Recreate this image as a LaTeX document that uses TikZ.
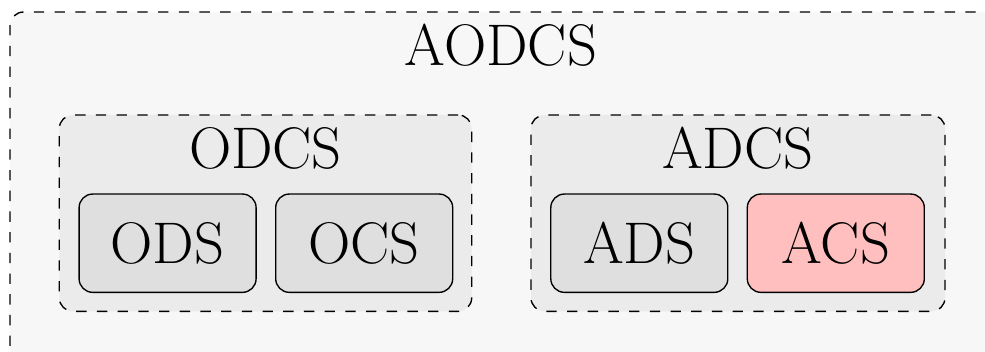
\documentclass[tikz,border=0pt]{standalone}
\definecolor{outerfill}{gray}{0.97}
\definecolor{groupfill}{gray}{0.922}
\definecolor{boxfill}{gray}{0.875}
\definecolor{hotfill}{RGB}{255,191,191}
\tikzset{
  big/.style={font=\fontsize{58.7}{70}\selectfont, inner sep=0pt},
  dashbox/.style={draw=black, line width=1.36pt, dash pattern=on 10.35pt off 10.35pt, rounded corners=13.6pt},
  groupbox/.style={dashbox, fill=groupfill, inner sep=0pt},
  subbox/.style={draw=black, line width=1.36pt, rounded corners=13.6pt, fill=boxfill, inner sep=0pt,
    minimum width=177pt, minimum height=98.3pt, big, text height=41.6pt, text depth=0pt},
  title/.style={big, anchor=base}
}
\begin{document}
\begin{tikzpicture}[x=1pt,y=-1pt]
\useasboundingbox (0,0) rectangle (985,352);
\clip (0,0) rectangle (985,352);
\fill[white] (0,0) rectangle (985,352);
\node[dashbox, fill=outerfill, inner sep=0pt, minimum width=1000pt, minimum height=370pt] (aodcs) at (510,197) {};
\node[title] (aodcsT) at (501,66) {AODCS};
\node[groupbox, minimum width=412.4pt, minimum height=196.4pt] (odcs) at (265.5,213.2) {};
\node[groupbox, minimum width=414pt, minimum height=196.4pt] (adcs) at (738,213.2) {};
\node[title] (odcsT) at (265.5,169) {ODCS};
\node[title] (adcsT) at (738,169) {ADCS};
\node[subbox] (ods) at (167.6,243.2) {ODS};
\node[subbox] (ocs) at (364.2,243.2) {OCS};
\node[subbox] (ads) at (639.3,243.2) {ADS};
\node[subbox, fill=hotfill] (acs) at (835.8,243.2) {ACS};
\end{tikzpicture}
\end{document}
